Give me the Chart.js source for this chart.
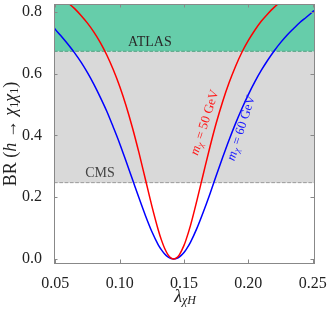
<!DOCTYPE html>
<html><head><meta charset="utf-8">
<script src="https://cdn.jsdelivr.net/npm/chart.js@4"></script>
<style>html,body{margin:0;padding:0;background:#fff;}canvas{display:block;}</style>
</head><body>
<canvas id="c" width="332" height="313"></canvas>
<script>
// lambda_{chi H} sample points
const lambda = [0.049,0.05,0.055,0.06,0.065,0.07,0.075,0.08,0.085,0.09,0.095,0.10,0.105,0.11,0.115,0.12,0.125,0.13,0.1325,0.135,0.1375,0.14,0.142,0.145,0.1465,0.15,0.1515,0.155,0.16,0.165,0.17,0.175,0.18,0.185,0.19,0.195,0.20,0.205,0.21,0.215,0.22,0.225,0.23,0.235,0.24,0.245,0.25,0.251];
// BR for m_chi = 50 GeV (red)
const br50 = [0.861,0.859,0.845,0.828,0.810,0.788,0.763,0.734,0.700,0.660,0.613,0.559,0.496,0.424,0.344,0.258,0.172,0.094,0.061,0.034,0.0143,0.0029,0,0.0064,0.0143,0.044,0.061,0.108,0.189,0.275,0.360,0.439,0.509,0.570,0.623,0.669,0.707,0.740,0.769,0.793,0.814,0.832,0.848,0.861,0.873,0.884,0.893,0.895];
// BR for m_chi = 60 GeV (blue)
const br60 = [0.749,0.743,0.719,0.694,0.667,0.637,0.603,0.565,0.523,0.478,0.427,0.374,0.316,0.257,0.198,0.141,0.089,0.046,0.0296,0.0163,0.0068,0.0013,0,0.0030,0.0068,0.0212,0.0296,0.054,0.099,0.152,0.209,0.269,0.328,0.385,0.438,0.487,0.532,0.573,0.610,0.643,0.673,0.700,0.724,0.745,0.765,0.782,0.800,0.804];
// experimental limits
const cmsLimit = 0.247;
const atlasLimit = 0.672;
// axes
const xRange = [0.049, 0.251];
const yRange = [-0.013, 0.825];
const xTicks = [0.05, 0.10, 0.15, 0.20, 0.25];
const yTicks = [0.0, 0.2, 0.4, 0.6, 0.8];

const SERIF = '"Liberation Serif", "DejaVu Serif", serif';

function pts(ys){ return lambda.map((x,i)=>({x:x, y:ys[i]})); }
function band(v){ return xRange.map(x=>({x:x, y:v})); }

function drawRuns(ctx, runs, cx, cy, angle, color){
  ctx.save();
  ctx.translate(cx, cy);
  ctx.rotate(angle);
  ctx.fillStyle = color;
  ctx.textBaseline = 'middle';
  ctx.textAlign = 'left';
  let total = 0;
  runs.forEach(r=>{ ctx.font = r.font; r.w = ctx.measureText(r.t).width; total += r.w; });
  let x = -total/2;
  runs.forEach(r=>{ ctx.font = r.font; ctx.fillText(r.t, x, r.dy||0); x += r.w; });
  ctx.restore();
}

const decor = {
  id: 'decor',
  afterDatasetsDraw(chart){
    const ctx = chart.ctx, a = chart.chartArea;
    const xs = chart.scales.x, ys = chart.scales.y;
    // region labels
    ctx.save();
    ctx.font = '14px ' + SERIF;
    ctx.textAlign = 'center'; ctx.textBaseline = 'middle';
    ctx.fillStyle = '#2a2a2a';
    ctx.fillText('ATLAS', xs.getPixelForValue(0.1235), ys.getPixelForValue(atlasLimit) - 9);
    ctx.fillStyle = '#444';
    ctx.fillText('CMS', xs.getPixelForValue(0.0847), ys.getPixelForValue(cmsLimit) - 9);
    ctx.restore();
    // curve labels
    const ang = -72*Math.PI/180;
    const mk = (txt)=>[
      {t:'m', font:'italic 13px '+SERIF},
      {t:'χ', font:'italic 9px '+SERIF, dy:3},
      {t:' = '+txt+' GeV', font:'13px '+SERIF}
    ];
    drawRuns(ctx, mk('50'), 205, 122.5, ang, '#ff1a1a');
    drawRuns(ctx, mk('60'), 241.5, 128, ang, '#1a1aff');
    // inward ticks
    ctx.save();
    ctx.strokeStyle = '#888'; ctx.lineWidth = 1;
    ctx.beginPath();
    xs.ticks.forEach(t=>{ const px = Math.round(xs.getPixelForValue(t.value))+0.5; ctx.moveTo(px, a.bottom); ctx.lineTo(px, a.bottom-3.5); ctx.moveTo(px, a.top); ctx.lineTo(px, a.top+3.5); });
    ys.ticks.forEach(t=>{ const py = Math.round(ys.getPixelForValue(t.value))+0.5; ctx.moveTo(a.left, py); ctx.lineTo(a.left+3.5, py); ctx.moveTo(a.right, py); ctx.lineTo(a.right-3.5, py); });
    ctx.stroke();
    // frame
    ctx.strokeRect(Math.round(a.left)+0.5, Math.round(a.top)+0.5, Math.round(a.right-a.left), Math.round(a.bottom-a.top));
    ctx.restore();
    // axis titles
    drawRuns(ctx, [
      {t:'BR (', font:'18px '+SERIF},
      {t:'h', font:'italic 18px '+SERIF},
      {t:' → ', font:'18px '+SERIF},
      {t:'χ', font:'italic 18px '+SERIF},
      {t:'1', font:'12px '+SERIF, dy:4},
      {t:'χ', font:'italic 18px '+SERIF},
      {t:'1', font:'12px '+SERIF, dy:4},
      {t:')', font:'18px '+SERIF}
    ], 11, 134, -Math.PI/2, '#222');
    drawRuns(ctx, [
      {t:'λ', font:'italic 18px '+SERIF},
      {t:'χH', font:'italic 12px '+SERIF, dy:4}
    ], 185, 297, 0, '#222');
  }
};

new Chart(document.getElementById('c'), {
  type: 'line',
  data: {
    datasets: [
      { label:'50 GeV', data: pts(br50), borderColor:'#ff0000', borderWidth:1.5, pointRadius:0, fill:false, cubicInterpolationMode:'monotone', order:0 },
      { label:'60 GeV', data: pts(br60), borderColor:'#0000ff', borderWidth:1.5, pointRadius:0, fill:false, cubicInterpolationMode:'monotone', order:0 },
      { label:'ATLAS', data: band(atlasLimit), borderColor:'#4f9f7f', borderWidth:1, borderDash:[3.7,1.6], backgroundColor:'#66cdaa', pointRadius:0, fill:'end', order:5 },
      { label:'CMS', data: band(cmsLimit), borderColor:'#999999', borderWidth:1, borderDash:[3.7,1.6], backgroundColor:'#d9d9d9', pointRadius:0, fill:{value: atlasLimit}, order:6 }
    ]
  },
  options: {
    responsive:false, animation:false, devicePixelRatio:1,
    layout:{ padding:{ top:4, right:18, left:0, bottom:0 } },
    plugins:{ legend:{display:false}, tooltip:{enabled:false} },
    scales:{
      x:{ type:'linear', min:xRange[0], max:xRange[1],
          afterBuildTicks: s=>{ s.ticks = xTicks.map(v=>({value:v})); },
          afterFit: s=>{ s.height = 50; s.paddingLeft = 0; s.paddingRight = 0; },
          ticks:{ callback:v=>Number(v).toFixed(2), font:{family:SERIF, size:16}, color:'#222', padding:3, maxRotation:0, autoSkip:false },
          grid:{display:false}, border:{display:false} },
      y:{ type:'linear', min:yRange[0], max:yRange[1],
          afterBuildTicks: s=>{ s.ticks = yTicks.map(v=>({value:v})); },
          afterFit: s=>{ s.width = 54; s.paddingTop = 0; s.paddingBottom = 0; },
          ticks:{ callback:v=>Number(v).toFixed(1), font:{family:SERIF, size:16}, color:'#222', padding:4, autoSkip:false },
          grid:{display:false}, border:{display:false} }
    }
  },
  plugins:[decor]
});
</script>
</body></html>
